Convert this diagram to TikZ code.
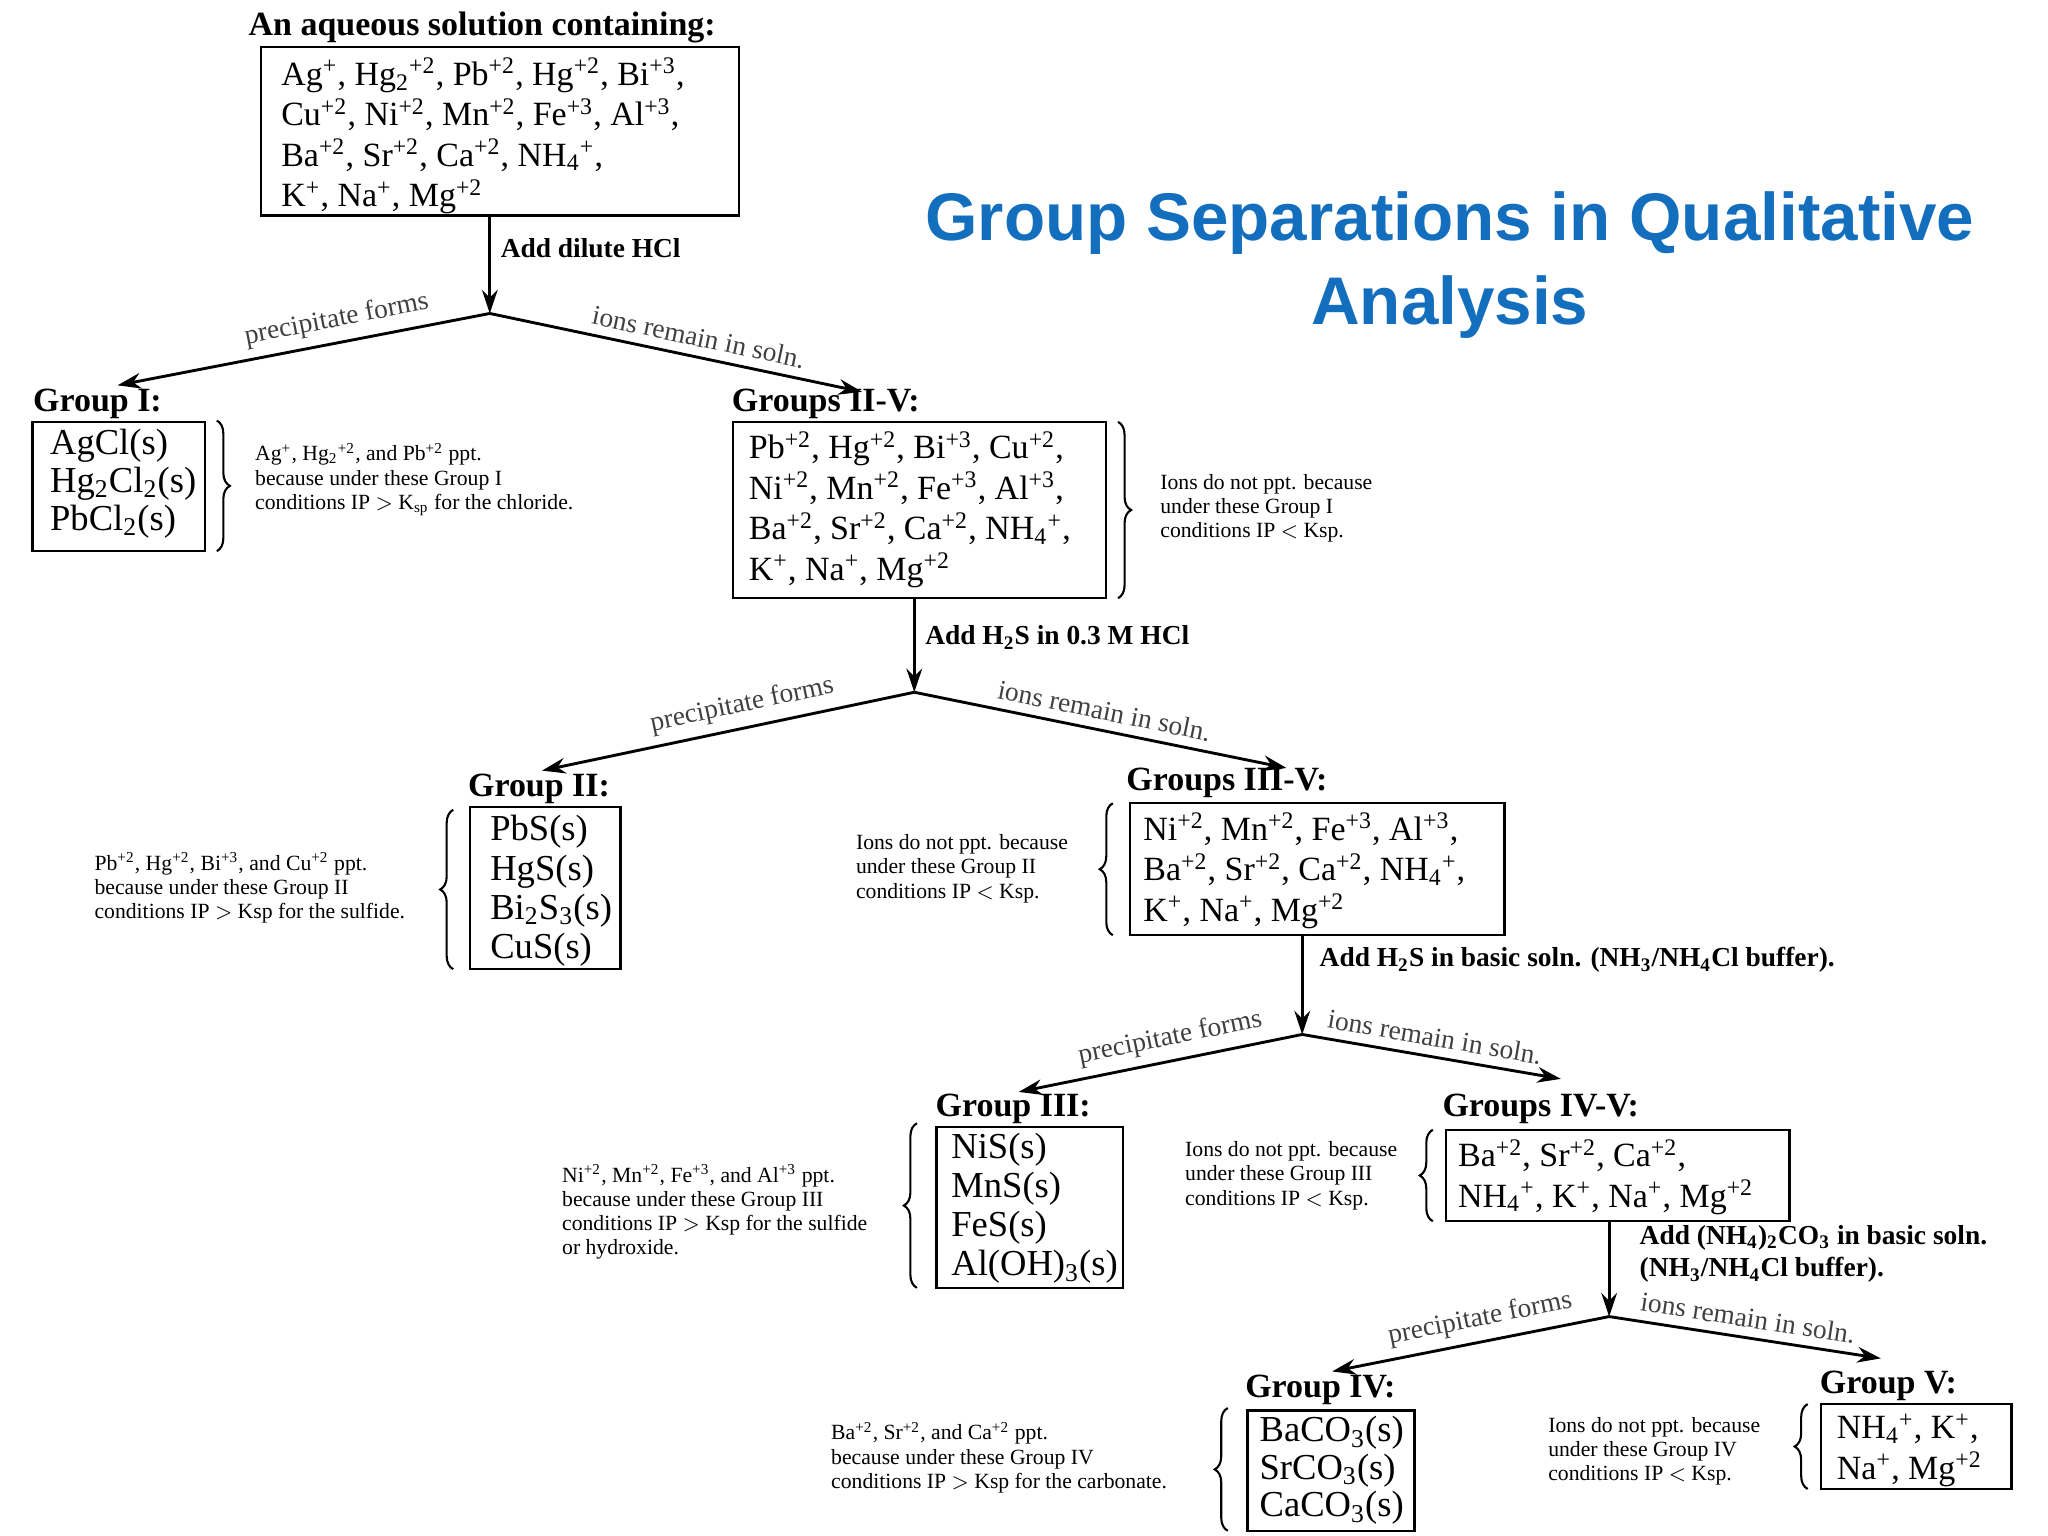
\documentclass[tikz,border=0pt]{standalone}
\usepackage{fontspec}
\setmainfont{Liberation Serif}
\newfontfamily\titlefont{Liberation Sans}
\usetikzlibrary{decorations.pathreplacing,arrows.meta}
\newcommand{\ionup}[1]{\textsuperscript{#1}}
\newcommand{\iondn}[1]{\textsubscript{#1}}
\definecolor{titleblue}{RGB}{20,110,190}
\tikzset{
 ionbox/.style={draw,line width=0.9pt,inner sep=0pt},
 ions/.style={anchor=north west,align=left,font=\fontsize{13}{15.5}\selectfont,inner sep=0pt},
 head/.style={anchor=south west,font=\bfseries\fontsize{13}{15}\selectfont,inner sep=0pt},
 step label/.style={anchor=west,font=\bfseries\fontsize{10.5}{12}\selectfont,inner sep=0pt,align=left},
 note/.style={align=left,font=\fontsize{8.3}{9.3}\selectfont,inner sep=0pt},
 flow/.style={-{Stealth[length=9pt,width=6pt]},line width=1.1pt},
 branch/.style={-{Stealth[length=9pt,width=6pt]},line width=1.1pt},
 blab/.style={sloped,above,font=\fontsize{10.5}{12}\selectfont,text=black!75},
 brc/.style={decorate,decoration={brace,amplitude=5pt},line width=0.8pt},
}
\begin{document}
\begin{tikzpicture}[x=0.5pt,y=-0.5pt]
\path[use as bounding box] (0,0) rectangle (1568,1176);
% title
\node[font=\titlefont\bfseries\fontsize{25.8}{32}\selectfont,text=titleblue,align=center] (title) at (1110,203) {Group Separations in Qualitative\\Analysis};
% top
\node[head] (toph) at (190,33) {An aqueous solution containing:};
\draw[ionbox] (200,36) rectangle (566,165);
\node[ions] (top) at (215,44) {Ag\ionup{+}, Hg\iondn{2}\ionup{+2}, Pb\ionup{+2}, Hg\ionup{+2}, Bi\ionup{+3},\\Cu\ionup{+2}, Ni\ionup{+2}, Mn\ionup{+2}, Fe\ionup{+3}, Al\ionup{+3},\\Ba\ionup{+2}, Sr\ionup{+2}, Ca\ionup{+2}, NH\iondn{4}\ionup{+},\\K\ionup{+}, Na\ionup{+}, Mg\ionup{+2}};
\coordinate (b1) at (375,240);
\coordinate (t1) at (375,165);
\draw[flow] (t1) -- (b1);
\node[step label] (s1) at (383,190) {Add dilute HCl};
\coordinate (g1a) at (90,295);
\coordinate (g1b) at (660,300);
\draw[branch] (b1) -- node[blab,pos=0.4] {precipitate forms} (g1a);
\draw[branch] (b1) -- node[blab,pos=0.55] {ions remain in soln.} (g1b);
% Group I
\node[head] (gIh) at (25,321) {Group I:};
\draw[ionbox] (25,323) rectangle (157,422);
\node[ions,font=\fontsize{14}{14.5}\selectfont] (gI) at (38,328) {AgCl(s)\\Hg\iondn{2}Cl\iondn{2}(s)\\PbCl\iondn{2}(s)};
\draw[brc] (166,322) -- (166,422);
\node[note,anchor=west] (nI) at (195,367) {Ag\ionup{+}, Hg\iondn{2}\ionup{+2}, and Pb\ionup{+2} ppt.\\because under these Group I\\conditions IP $>$ K\iondn{sp} for the chloride.};
% Groups II-V
\node[head] (gIIVh) at (560,321) {Groups II-V:};
\draw[ionbox] (561,323) rectangle (847,458);
\node[ions] (gIIV) at (573,330) {Pb\ionup{+2}, Hg\ionup{+2}, Bi\ionup{+3}, Cu\ionup{+2},\\Ni\ionup{+2}, Mn\ionup{+2}, Fe\ionup{+3}, Al\ionup{+3},\\Ba\ionup{+2}, Sr\ionup{+2}, Ca\ionup{+2}, NH\iondn{4}\ionup{+},\\K\ionup{+}, Na\ionup{+}, Mg\ionup{+2}};
\draw[brc] (856,323) -- (856,458);
\node[note,anchor=west] (nIIV) at (888,389) {Ions do not ppt. because\\under these Group I\\conditions IP $<$ Ksp.};
\coordinate (t2) at (700,458);
\coordinate (b2) at (700,530);
\draw[flow] (t2) -- (b2);
\node[step label] (s2) at (708,488) {Add H\iondn{2}S in 0.3 M HCl};
\coordinate (g2a) at (415,590);
\coordinate (g2b) at (985,588);
\draw[branch] (b2) -- node[blab,pos=0.45] {precipitate forms} (g2a);
\draw[branch] (b2) -- node[blab,pos=0.5] {ions remain in soln.} (g2b);
% Group II
\node[head] (gIIh) at (358,616) {Group II:};
\draw[ionbox] (360,618) rectangle (475,742);
\node[ions,font=\fontsize{14}{15}\selectfont] (gII) at (375,624) {PbS(s)\\HgS(s)\\Bi\iondn{2}S\iondn{3}(s)\\CuS(s)};
\draw[brc] (347,742) -- (347,620);
\node[note,anchor=west] (nII) at (72,680) {Pb\ionup{+2}, Hg\ionup{+2}, Bi\ionup{+3}, and Cu\ionup{+2} ppt.\\because under these Group II\\conditions IP $>$ Ksp for the sulfide.};
% Groups III-V
\node[head] (gIIIVh) at (862,611) {Groups III-V:};
\draw[ionbox] (865,615) rectangle (1152,716);
\node[ions] (gIIIV) at (875,622) {Ni\ionup{+2}, Mn\ionup{+2}, Fe\ionup{+3}, Al\ionup{+3},\\Ba\ionup{+2}, Sr\ionup{+2}, Ca\ionup{+2}, NH\iondn{4}\ionup{+},\\K\ionup{+}, Na\ionup{+}, Mg\ionup{+2}};
\draw[brc] (852,716) -- (852,615);
\node[note,anchor=west] (nIIIV) at (655,665) {Ions do not ppt. because\\under these Group II\\conditions IP $<$ Ksp.};
\coordinate (t3) at (997,716);
\coordinate (b3) at (997,792);
\draw[flow] (t3) -- (b3);
\node[step label] (s3) at (1010,735) {Add H\iondn{2}S in basic soln. (NH\iondn{3}/NH\iondn{4}Cl buffer).};
\coordinate (g3a) at (780,836);
\coordinate (g3b) at (1195,826);
\draw[branch] (b3) -- node[blab,pos=0.45] {precipitate forms} (g3a);
\draw[branch] (b3) -- node[blab,pos=0.5] {ions remain in soln.} (g3b);
% Group III
\node[head] (gIIIh) at (716,861) {Group III:};
\draw[ionbox] (717,863) rectangle (860,986);
\node[ions,font=\fontsize{14}{15}\selectfont] (gIII) at (728,867) {NiS(s)\\MnS(s)\\FeS(s)\\Al(OH)\iondn{3}(s)};
\draw[brc] (702,986) -- (702,860);
\node[note,anchor=west] (nIII) at (430,928) {Ni\ionup{+2}, Mn\ionup{+2}, Fe\ionup{+3}, and Al\ionup{+3} ppt.\\because under these Group III\\conditions IP $>$ Ksp for the sulfide\\or hydroxide.};
% Groups IV-V
\node[head] (gIVVh) at (1104,861) {Groups IV-V:};
\draw[ionbox] (1107,865) rectangle (1370,935);
\node[ions] (gIVV) at (1116,872) {Ba\ionup{+2}, Sr\ionup{+2}, Ca\ionup{+2},\\NH\iondn{4}\ionup{+}, K\ionup{+}, Na\ionup{+}, Mg\ionup{+2}};
\draw[brc] (1097,935) -- (1097,865);
\node[note,anchor=west] (nIVV) at (907,900) {Ions do not ppt. because\\under these Group III\\conditions IP $<$ Ksp.};
\coordinate (t4) at (1232,935);
\coordinate (b4) at (1232,1008);
\draw[flow] (t4) -- (b4);
\node[step label,font=\bfseries\fontsize{10.5}{12.5}\selectfont] (s4) at (1255,960) {Add (NH\iondn{4})\iondn{2}CO\iondn{3} in basic soln.\\(NH\iondn{3}/NH\iondn{4}Cl buffer).};
\coordinate (g4a) at (1020,1050);
\coordinate (g4b) at (1440,1040);
\draw[branch] (b4) -- node[blab,pos=0.45] {precipitate forms} (g4a);
\draw[branch] (b4) -- node[blab,pos=0.5] {ions remain in soln.} (g4b);
% Group IV
\node[head] (gIVh) at (953,1076) {Group IV:};
\draw[ionbox] (955,1080) rectangle (1083,1172);
\node[ions,font=\fontsize{14}{14.3}\selectfont] (gIV) at (964,1084) {BaCO\iondn{3}(s)\\SrCO\iondn{3}(s)\\CaCO\iondn{3}(s)};
\draw[brc] (940,1172) -- (940,1078);
\node[note,anchor=west] (nIV) at (636,1116) {Ba\ionup{+2}, Sr\ionup{+2}, and Ca\ionup{+2} ppt.\\because under these Group IV\\conditions IP $>$ Ksp for the carbonate.};
% Group V
\node[head] (gVh) at (1393,1073) {Group V:};
\draw[ionbox] (1394,1075) rectangle (1540,1140);
\node[ions] (gV) at (1406,1082) {NH\iondn{4}\ionup{+}, K\ionup{+},\\Na\ionup{+}, Mg\ionup{+2}};
\draw[brc] (1384,1140) -- (1384,1075);
\node[note,anchor=west] (nV) at (1185,1111) {Ions do not ppt. because\\under these Group IV\\conditions IP $<$ Ksp.};
\end{tikzpicture}
\end{document}
